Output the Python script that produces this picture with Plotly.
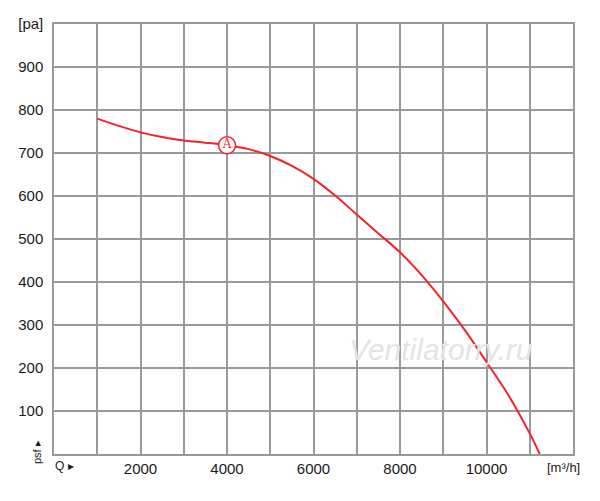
import plotly.graph_objects as go

# fan curve: air flow [m3/h] vs static pressure [pa]
flow = [1000, 1500, 2000, 2500, 3000, 3500, 4000, 4500, 5000, 5500, 6000,
        6500, 7000, 7500, 8000, 8500, 9000, 9500, 10000, 10500, 11000, 11230]
pressure = [780, 763, 748, 737, 729, 724, 718, 709, 693, 670, 640,
            601, 557, 513, 469, 416, 355, 288, 214, 138, 48, 0]

point_a_q = [4000]
point_a_p = [718]

x_grid = list(range(1000, 12000, 1000))
x_labels = ['' if v % 2000 else str(v) for v in x_grid]
y_grid = list(range(100, 1001, 100))
y_labels = [str(v) for v in y_grid[:-1]] + ['[pa]']

RED = '#f5222a'
GRID = '#9a9a9a'

fig = go.Figure()
fig.add_trace(go.Scatter(x=flow, y=pressure, mode='lines',
                         line=dict(color=RED, width=2, shape='spline', smoothing=1.0),
                         hoverinfo='skip'))
fig.add_trace(go.Scatter(x=point_a_q, y=point_a_p, mode='markers+text',
                         marker=dict(size=17, color='white', line=dict(color=RED, width=1.5)),
                         text=['A'], textposition='middle center',
                         textfont=dict(family='DejaVu Serif', size=12, color=RED)))

fig.update_layout(
    width=600, height=501,
    margin=dict(l=54, r=27, t=24, b=47),
    paper_bgcolor='white', plot_bgcolor='white',
    showlegend=False,
    font=dict(family='Liberation Sans, Arial', size=15, color='#1a1a1a'),
)
fig.update_xaxes(range=[0, 12000], tickvals=x_grid, ticktext=x_labels,
                 showgrid=True, gridcolor=GRID, gridwidth=1.5,
                 showline=True, linecolor=GRID, linewidth=1.5, mirror=True,
                 ticks='', zeroline=False, ticklabelstandoff=0, automargin=False)
fig.update_yaxes(range=[0, 1000], tickvals=y_grid, ticktext=y_labels,
                 showgrid=True, gridcolor=GRID, gridwidth=1.5,
                 showline=True, linecolor=GRID, linewidth=1.5, mirror=True,
                 ticks='', zeroline=False, ticklabelstandoff=6, automargin=False)

fig.add_annotation(x=563, y=467, text='[m³/h]',
                   showarrow=False, font=dict(size=13))
fig.add_annotation(text='Q ▸', x=53, y=466, showarrow=False, xanchor='left',
                   font=dict(size=12))
fig.add_annotation(text='psf ▸', x=37, y=452, textangle=-90, showarrow=False,
                   font=dict(size=11))
fig.add_annotation(text='Ventilatorry.ru', x=441, y=349, showarrow=False,
                   font=dict(size=30, color='#e4e4e4', style='italic'))

# convert pixel positions of the annotations into paper coords
for ann in fig.layout.annotations:
    ann.xref = 'paper'
    ann.yref = 'paper'
    ann.yanchor = 'middle'
    if ann.xanchor is None:
        ann.xanchor = 'center'
    ann.x = (ann.x - 54) / 519
    ann.y = (454 - ann.y) / 430

# drop the default 8px page margin so the figure sits at the window corner
fig.write_html("out.html", config={'displayModeBar': False},
               post_script="document.body.style.margin='0';")
